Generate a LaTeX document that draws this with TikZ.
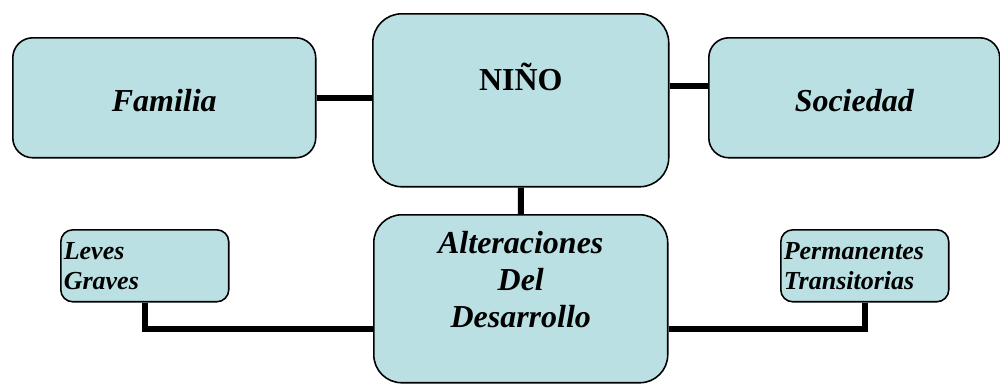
\documentclass[tikz,border=0pt]{standalone}
\usepackage{fontspec}
\setmainfont{Liberation Serif}
\definecolor{boxcyan}{RGB}{187, 224, 227}
\usetikzlibrary{positioning}

\begin{document}
\begin{tikzpicture}[x=0.02cm, y=-0.02cm,
  box/.style={draw=black, line width=0.9pt, fill=boxcyan, inner sep=0pt, anchor=north west, align=center, font=\fontsize{18.2}{21}\selectfont\bfseries\itshape},
  smallbox/.style={box, align=left, inner xsep=0.06cm, text width=3.24cm, text height=0.6cm, text depth=0.84cm, rounded corners=0.24cm, font=\fontsize{14.8}{17.07}\selectfont\bfseries\itshape},
  link/.style={line width=0.12cm, line join=miter}]
  \useasboundingbox (0, 0) rectangle (1000, 383);

  % The child and its surroundings
  \node[box, text width=6.06cm, text height=1.48cm, text depth=0.92cm, rounded corners=0.4cm] (familia) at (12, 37) {Familia};
  \node[box, text width=5.92cm, text height=1.54cm, text depth=1.92cm, rounded corners=0.58cm, font=\fontsize{18.2}{21}\selectfont\bfseries] (nino) at (372, 13) {NIÑO};
  \node[box, text width=5.82cm, text height=1.48cm, text depth=0.92cm, rounded corners=0.4cm] (sociedad) at (708, 37) {Sociedad};

  % Developmental disorders
  \node[box, text width=5.88cm, text height=0.78cm, text depth=2.58cm, rounded corners=0.56cm] (alteraciones) at (373, 214) {Alteraciones\\Del\\Desarrollo};
  \node[smallbox] (grado) at (60, 229) {Leves\\Graves};
  \node[smallbox] (duracion) at (780, 229) {Permanentes\\Transitorias};

  % Links
  \draw[link] (familia.east) -- (familia.east -| nino.west);
  \draw[link] ([yshift=0.24cm]sociedad.west) -- ([yshift=0.24cm]sociedad.west -| nino.east);
  \draw[link] (nino.south) -- (alteraciones.north);
  \draw[link] (grado.south) |- ([yshift=-0.6cm]alteraciones.west);
  \draw[link] (duracion.south) |- ([yshift=-0.6cm]alteraciones.east);
\end{tikzpicture}
\end{document}
